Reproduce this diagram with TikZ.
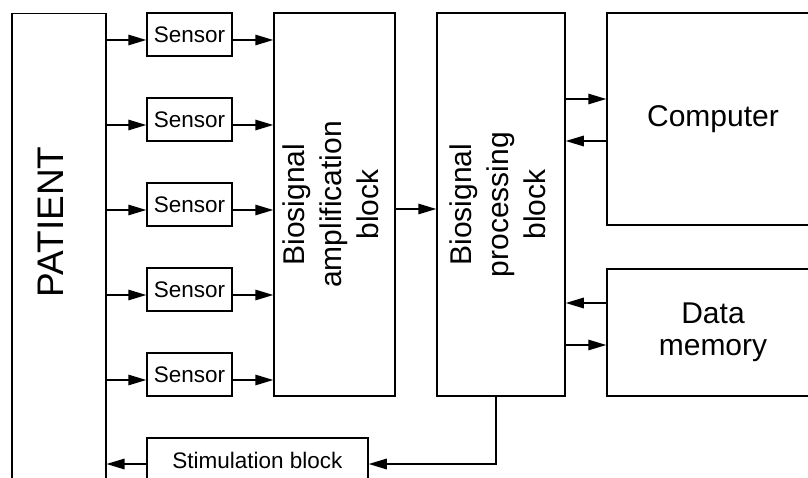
\documentclass[tikz,border=0pt]{standalone}
\usepackage{fontspec}
\setmainfont{Liberation Sans}
\usetikzlibrary{arrows.meta,calc}
\begin{document}
\begin{tikzpicture}[x=1pt,y=-1pt,
  box/.style={draw, line width=1.5pt, rectangle, inner sep=0pt},
  arr/.style={line width=1.5pt, -{Triangle[length=18pt,width=10.5pt]}},
  small/.style={font=\fontsize{22.5}{27}\selectfont},
  big/.style={font=\fontsize{30}{37}\selectfont},
]
\useasboundingbox (0,0) rectangle (808,478);
\clip (0,0) rectangle (808,478);
% patient
\node[box, minimum width=94pt, minimum height=500pt, anchor=north west] (pat) at (11,13) {};
\node[rotate=90, anchor=base, font=\fontsize{37}{40}\selectfont] (pattxt) at (63,222) {PATIENT};
% sensors
\node[box, small, minimum width=85pt, minimum height=43pt] (s1) at (189.5,34.5) {Sensor};
\node[box, small, minimum width=85pt, minimum height=43pt] (s2) at (189.5,119.5) {Sensor};
\node[box, small, minimum width=85pt, minimum height=43pt] (s3) at (189.5,204.5) {Sensor};
\node[box, small, minimum width=85pt, minimum height=43pt] (s4) at (189.5,289.5) {Sensor};
\node[box, small, minimum width=85pt, minimum height=43pt] (s5) at (189.5,374.5) {Sensor};
% blocks
\node[box, big, minimum width=121pt, minimum height=383pt] (amp) at (334.5,204.5)
  {\rotatebox{90}{\begin{tabular}{@{}c@{}}Biosignal\\amplification\\block\end{tabular}}};
\node[box, big, minimum width=128pt, minimum height=383pt] (proc) at (501,204.5)
  {\rotatebox{90}{\begin{tabular}{@{}c@{}}Biosignal\\processing\\block\end{tabular}}};
\node[box, big, minimum width=212pt, minimum height=212pt] (comp) at (713,119) {Computer};
\node[box, font=\fontsize{30}{32}\selectfont, align=center, minimum width=212pt, minimum height=127pt] (dm) at (713,332.5) {Data\\memory};
\node[box, small, minimum width=221pt, minimum height=44pt] (stim) at (257.5,460) {Stimulation block};
% connectors
\foreach \s in {s1,s2,s3,s4,s5} {
  \draw[arr] ([yshift=-5.5pt]\s.west -| pat.east) -- ([yshift=-5.5pt]\s.west);
  \draw[arr] ([yshift=-5.5pt]\s.east) -- ([yshift=-5.5pt]\s.east -| amp.west);
}
\draw[arr] ([yshift=-4.5pt]amp.east) -- ([yshift=-4.5pt]amp.east -| proc.west);
\draw[arr] ([yshift=20pt]comp.west -| proc.east) -- ([yshift=20pt]comp.west);
\draw[arr] ([yshift=-22pt]comp.west) -- ([yshift=-22pt]comp.west -| proc.east);
\draw[arr] ([yshift=29.5pt]dm.west) -- ([yshift=29.5pt]dm.west -| proc.east);
\draw[arr] ([yshift=-12.5pt]dm.west -| proc.east) -- ([yshift=-12.5pt]dm.west);
\draw[arr] ([xshift=-5pt]proc.south) |- ([yshift=-4pt]stim.east);
\draw[arr] ([yshift=-4pt]stim.west) -- ([yshift=-4pt]stim.west -| pat.east);
\end{tikzpicture}
\end{document}
